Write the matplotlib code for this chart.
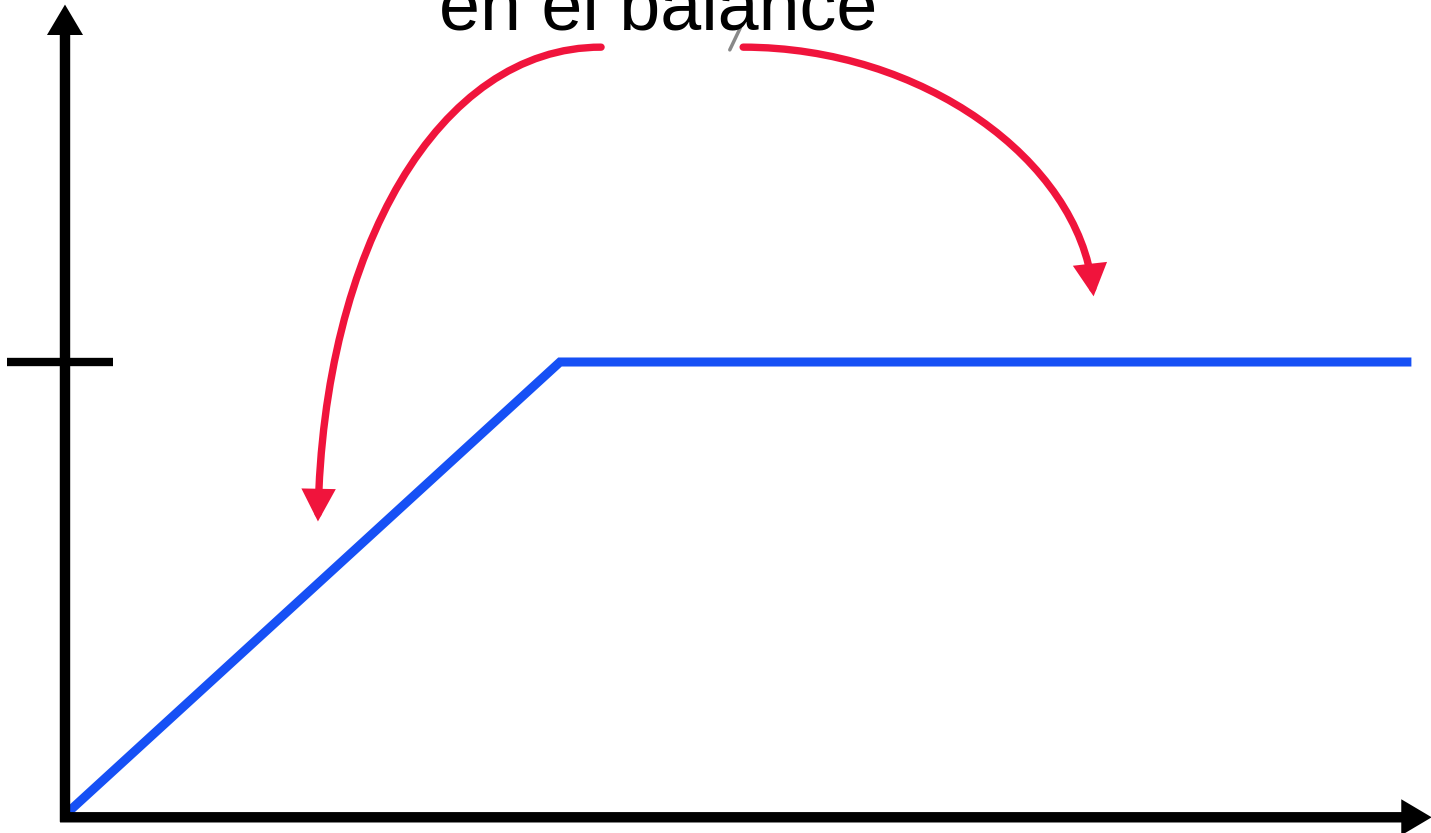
import matplotlib
matplotlib.use("Agg")
import matplotlib.pyplot as plt
from matplotlib.patches import FancyArrowPatch
from matplotlib.path import Path

# data (units: kink of the curve at x=1, plateau level y=1)
line_x = [0, 1, 2.72]
line_y = [0, 1, 1]
tick_level = 1
label = "en el balance"

# curved arrows: start, two control points, end
left_arrow = [(1.083, 1.695), (0.754, 1.695), (0.522, 1.247), (0.511, 0.648)]
right_arrow = [(1.370, 1.695), (1.731, 1.695), (2.047, 1.446), (2.078, 1.145)]

blue = "#1650f5"
red = "#f0143c"

fig = plt.figure(figsize=(14.31, 8.33), dpi=100)
ax = fig.add_axes([0, 0, 1, 1])
ax.set_xlim(-0.1313, 2.7596)
ax.set_ylim(-0.0397, 1.7991)
ax.axis("off")

# axes with arrows
axis_props = dict(arrowstyle="-|>,head_length=0.54,head_width=0.32",
                  lw=7.5, color="black", mutation_scale=20,
                  shrinkA=0, shrinkB=0, joinstyle="miter", capstyle="butt")
ax.annotate("", xy=(0, 1.789), xytext=(0, -0.015), arrowprops=axis_props,
            annotation_clip=False)
ax.annotate("", xy=(2.761, -0.005), xytext=(-0.01, -0.005), arrowprops=axis_props,
            annotation_clip=False)
ax.plot([-0.117, 0.097], [tick_level, tick_level], color="black", lw=6,
        solid_capstyle="butt")

ax.plot(line_x, line_y, color=blue, lw=6.5, solid_joinstyle="miter",
        solid_capstyle="butt")

for pts in (left_arrow, right_arrow):
    p = Path(pts, [Path.MOVETO, Path.CURVE4, Path.CURVE4, Path.CURVE4])
    arr = FancyArrowPatch(path=p, arrowstyle="-|>,head_length=0.76,head_width=0.4",
                          mutation_scale=20, color=red, lw=5.3,
                          capstyle="round", joinstyle="miter")
    ax.add_patch(arr)

ax.plot([1.343, 1.364], [1.689, 1.737], color="#888888", lw=2.5,
        solid_capstyle="round")

ax.text(1.199, 1.733, label, ha="center", va="baseline", fontsize=53,
        family="Liberation Sans", color="black")

fig.savefig("out.png", dpi=100)
